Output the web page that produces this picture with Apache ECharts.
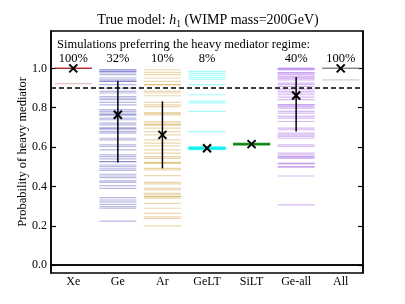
<!DOCTYPE html>
<html><head><meta charset="utf-8">
<script src="https://cdn.jsdelivr.net/npm/echarts@6/dist/echarts.min.js"></script>
<style>html,body{margin:0;padding:0;background:#fff}#c{width:405px;height:304px}</style>
</head><body><div id="c"></div>
<script>
const categories = ['Xe', 'Ge', 'Ar', 'GeLT', 'SiLT', 'Ge-all', 'All'];
const pctLabels = ['100%', '32%', '10%', '8%', '', '40%', '100%'];
const meanVals = [1.0, 0.764, 0.662, 0.594, 0.615, 0.862, 1.0];
const errLow  = [null, 0.521, 0.492, null, null, 0.679, null];
const errHigh = [null, 0.937, 0.832, null, null, 0.956, null];
const thresholdVal = 0.9;
const yTicks = [0.0, 0.2, 0.4, 0.6, 0.8, 1.0];

const xeVals = [1.0, 1.0, 1.0, 1.0, 1.0, 1.0, 0.922];
const geVals = [0.993, 0.993, 0.985, 0.985, 0.977, 0.968, 0.951, 0.942, 0.934, 0.934, 0.917, 0.900, 0.883, 0.875,
  0.857, 0.849, 0.841, 0.827, 0.815, 0.790, 0.781, 0.773, 0.764, 0.764, 0.747, 0.739, 0.722, 0.713, 0.696, 0.696,
  0.688, 0.679, 0.671, 0.645, 0.637, 0.611, 0.603, 0.586, 0.560, 0.552, 0.540, 0.526, 0.526, 0.509, 0.501, 0.489,
  0.481, 0.462, 0.453, 0.445, 0.428, 0.421, 0.404, 0.390, 0.343, 0.331, 0.322, 0.309, 0.297, 0.289, 0.224];
const arVals = [0.993, 0.980, 0.968, 0.951, 0.934, 0.917, 0.917, 0.883, 0.875, 0.861, 0.827, 0.815, 0.806, 0.773,
  0.773, 0.764, 0.730, 0.722, 0.713, 0.713, 0.696, 0.679, 0.662, 0.637, 0.620, 0.606, 0.586, 0.569, 0.552, 0.543,
  0.523, 0.518, 0.518, 0.492, 0.484, 0.455, 0.421, 0.413, 0.390, 0.382, 0.365, 0.357, 0.348, 0.348, 0.340, 0.314,
  0.289, 0.263, 0.246, 0.238, 0.200];
const geltVals = [0.985, 0.975, 0.965, 0.955, 0.945, 0.917, 0.866, 0.832, 0.824, 0.781, 0.679,
  0.587, 0.588, 0.589, 0.590, 0.591, 0.592, 0.593, 0.594, 0.595, 0.596, 0.597, 0.598, 0.599, 0.600, 0.601];
const siltVals = [0.610, 0.611, 0.612, 0.613, 0.614, 0.615, 0.616, 0.617, 0.618, 0.619, 0.620];
const geallVals = [1.0, 1.0, 0.993, 0.993, 0.977, 0.977, 0.968, 0.959, 0.951, 0.951, 0.942, 0.925, 0.917, 0.908,
  0.895, 0.883, 0.875, 0.866, 0.854, 0.841, 0.815, 0.815, 0.806, 0.798, 0.781, 0.773, 0.756, 0.747, 0.730, 0.696,
  0.688, 0.671, 0.662, 0.654, 0.645, 0.611, 0.603, 0.569, 0.560, 0.552, 0.549, 0.543, 0.518, 0.515, 0.501, 0.498,
  0.453, 0.306];
const allVals = [1.0, 1.0, 1.0, 1.0, 1.0, 1.0, 0.942];

const groupVals = [xeVals, geVals, arVals, geltVals, siltVals, geallVals, allVals];
const groupColors = ['#b22222', '#3c3cb4', '#c8901e', '#00f0f0', '#008000', '#9040e0', '#808080'];
const FONT = '"Liberation Serif", "Times New Roman", serif';

const lineData = [];
groupVals.forEach((arr, i) => arr.forEach(v => lineData.push([i, v])));
const meanData = meanVals.map((v, i) => [i, v]);
const errData = [];
errLow.forEach((lo, i) => { if (lo != null) errData.push([i, lo, errHigh[i]]); });
const pctData = pctLabels.map((t, i) => [i, 1.05]);

const chart = echarts.init(document.getElementById('c'), null, {renderer: 'canvas'});
const yTickStyle = {show: true, inside: true, length: 5, customValues: yTicks, lineStyle: {color: '#000', width: 1.2}};
const option = {
  animation: false,
  backgroundColor: '#fff',
  grid: {left: 51, right: 42, top: 31, bottom: 31, show: true, borderColor: '#000', borderWidth: 1.5, backgroundColor: 'transparent'},
  xAxis: [
    {type: 'category', data: categories, position: 'bottom', boundaryGap: true,
     axisLine: {lineStyle: {color: '#000', width: 1.5}},
     axisTick: {inside: true, alignWithLabel: true, length: 5, lineStyle: {color: '#000', width: 1.2}},
     axisLabel: {color: '#000', fontFamily: FONT, fontSize: 12, margin: 3},
     splitLine: {show: false}},
    {type: 'category', data: categories, position: 'top', boundaryGap: true,
     axisLine: {lineStyle: {color: '#000', width: 1.5}},
     axisTick: {inside: true, alignWithLabel: true, length: 5, lineStyle: {color: '#000', width: 1.2}},
     axisLabel: {show: false}, splitLine: {show: false}}
  ],
  yAxis: [
    {type: 'value', min: -0.04, max: 1.19, position: 'left',
     name: 'Probability of heavy mediator', nameLocation: 'middle', nameGap: 22, nameMoveOverlap: false,
     nameTextStyle: {color: '#000', fontFamily: FONT, fontSize: 12.5},
     axisLine: {show: true, lineStyle: {color: '#000', width: 1.5}},
     axisTick: yTickStyle,
     axisLabel: {color: '#000', fontFamily: FONT, fontSize: 12, margin: 4, customValues: yTicks,
       formatter: v => Number(v).toFixed(1)},
     splitLine: {show: false}},
    {type: 'value', min: -0.04, max: 1.19, position: 'right',
     axisLine: {show: true, lineStyle: {color: '#000', width: 1.5}},
     axisTick: yTickStyle,
     axisLabel: {show: false}, splitLine: {show: false}}
  ],
  graphic: [
    {type: 'text', x: 208, y: 20, style: {
      text: 'True model: {i|h}{s|1} (WIMP mass=200GeV)',
      font: '14px ' + FONT, fill: '#000', align: 'center', verticalAlign: 'middle',
      rich: {i: {fontStyle: 'italic', fontFamily: FONT, fontSize: 14, lineHeight: 18},
             s: {fontFamily: FONT, fontSize: 9.5, verticalAlign: 'bottom', lineHeight: 18}}
    }},
    {type: 'text', x: 57, y: 45, style: {
      text: 'Simulations preferring the heavy mediator regime:',
      font: '12.5px ' + FONT, fill: '#000', align: 'left', verticalAlign: 'middle'}}
  ],
  series: [
    {type: 'custom', name: 'sims', data: lineData, z: 2,
     renderItem: (params, api) => {
       const i = api.value(0);
       const c = api.coord([i, api.value(1)]);
       const w = api.size([1, 0])[0] * 0.83;
       return {type: 'line', shape: {x1: c[0] - w / 2, y1: c[1], x2: c[0] + w / 2, y2: c[1]},
         style: {stroke: groupColors[i], lineWidth: 1.2, opacity: 0.36}};
     }},
    {type: 'custom', name: 'pct', data: pctData, z: 3,
     renderItem: (params, api) => {
       const c = api.coord([api.value(0), api.value(1)]);
       return {type: 'text', x: c[0], y: c[1], style: {text: pctLabels[params.dataIndex],
         font: '12.5px ' + FONT, fill: '#000', align: 'center', verticalAlign: 'middle'}};
     },
     markLine: {silent: true, symbol: 'none', label: {show: false},
       lineStyle: {color: '#000', width: 1.5, type: [5, 3]},
       data: [{yAxis: thresholdVal}]}},
    {type: 'custom', name: 'err', data: errData, z: 4,
     renderItem: (params, api) => {
       const a = api.coord([api.value(0), api.value(1)]);
       const b = api.coord([api.value(0), api.value(2)]);
       return {type: 'line', shape: {x1: a[0], y1: a[1], x2: b[0], y2: b[1]},
         style: {stroke: '#000', lineWidth: 1.5}};
     }},
    {type: 'custom', name: 'mean', data: meanData, z: 5,
     renderItem: (params, api) => {
       const c = api.coord([api.value(0), api.value(1)]);
       const r = 4;
       return {type: 'group', children: [
         {type: 'line', shape: {x1: c[0] - r, y1: c[1] - r, x2: c[0] + r, y2: c[1] + r}, style: {stroke: '#000', lineWidth: 2}},
         {type: 'line', shape: {x1: c[0] - r, y1: c[1] + r, x2: c[0] + r, y2: c[1] - r}, style: {stroke: '#000', lineWidth: 2}}
       ]};
     }}
  ]
};
chart.setOption(option);
</script></body></html>
